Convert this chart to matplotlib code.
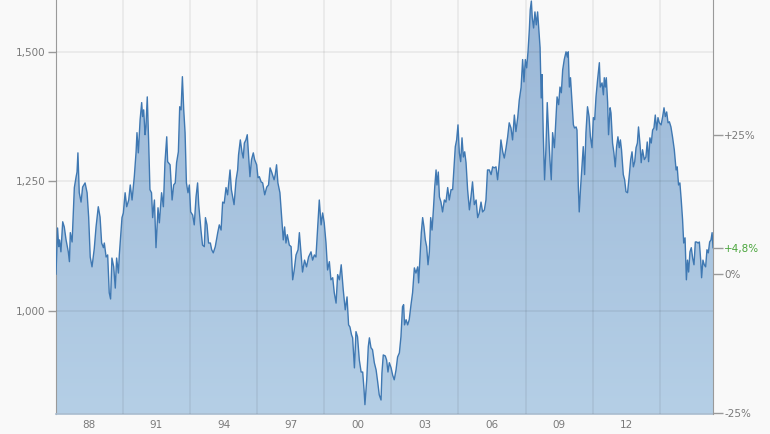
import numpy as np
import matplotlib.pyplot as plt
from matplotlib.colors import LinearSegmentedColormap

# index level (x in decimal years)
years = [
    1986.51, 1986.58, 1986.63, 1986.67, 1986.73, 1986.81, 1986.88, 1986.96, 1987.06, 1987.11,
    1987.15, 1987.23, 1987.33, 1987.41, 1987.45, 1987.49, 1987.55, 1987.63, 1987.70, 1987.81,
    1987.90, 1987.97, 1988.04, 1988.12, 1988.22, 1988.30, 1988.40, 1988.48, 1988.55, 1988.63,
    1988.67, 1988.75, 1988.82, 1988.89, 1988.95, 1989.01, 1989.09, 1989.16, 1989.22, 1989.30,
    1989.34, 1989.46, 1989.52, 1989.60, 1989.67, 1989.76, 1989.83, 1989.91, 1990.01, 1990.09,
    1990.13, 1990.19, 1990.27, 1990.34, 1990.38, 1990.43, 1990.49, 1990.53, 1990.59, 1990.65,
    1990.71, 1990.78, 1990.83, 1990.91, 1990.98, 1991.07, 1991.13, 1991.23, 1991.31, 1991.38,
    1991.46, 1991.50, 1991.61, 1991.70, 1991.77, 1991.84, 1991.90, 1991.98, 1992.04, 1992.10,
    1992.16, 1992.22, 1992.28, 1992.34, 1992.41, 1992.47, 1992.53, 1992.62, 1992.69, 1992.77,
    1992.84, 1992.89, 1992.99, 1993.06, 1993.14, 1993.19, 1993.26, 1993.33, 1993.41, 1993.47,
    1993.54, 1993.63, 1993.74, 1993.81, 1993.89, 1993.96, 1994.03, 1994.11, 1994.18, 1994.29,
    1994.35, 1994.47, 1994.56, 1994.63, 1994.67, 1994.75, 1994.83, 1994.88, 1994.93, 1995.00,
    1995.06, 1995.12, 1995.18, 1995.25, 1995.33, 1995.39, 1995.48, 1995.54, 1995.60, 1995.68,
    1995.75, 1995.84, 1995.93, 1996.01, 1996.08, 1996.15, 1996.26, 1996.31, 1996.37, 1996.43,
    1996.52, 1996.60, 1996.67, 1996.73, 1996.79, 1996.85, 1996.94, 1997.02, 1997.09, 1997.16,
    1997.24, 1997.33, 1997.39, 1997.46, 1997.53, 1997.62, 1997.71, 1997.80, 1997.91, 1997.98,
    1998.06, 1998.13, 1998.21, 1998.28, 1998.36, 1998.43, 1998.50, 1998.58, 1998.65, 1998.73,
    1998.80, 1998.88, 1998.95, 1999.03, 1999.10, 1999.18, 1999.26, 1999.35, 1999.44, 1999.52,
    1999.59, 1999.65, 1999.72, 1999.77, 1999.85, 1999.92, 1999.99, 2000.07, 2000.15, 2000.22,
    2000.28, 2000.32, 2000.40, 2000.47, 2000.52, 2000.59, 2000.66, 2000.74, 2000.82, 2000.89,
    2000.96, 2001.04, 2001.08, 2001.14, 2001.23, 2001.29, 2001.35, 2001.41, 2001.49, 2001.56,
    2001.63, 2001.71, 2001.78, 2001.86, 2001.93, 2002.00, 2002.05, 2002.09, 2002.16, 2002.23,
    2002.30, 2002.38, 2002.45, 2002.53, 2002.60, 2002.68, 2002.72, 2002.78, 2002.84, 2002.90,
    2002.96, 2003.02, 2003.08, 2003.14, 2003.20, 2003.26, 2003.32, 2003.38, 2003.44, 2003.50,
    2003.54, 2003.60, 2003.65, 2003.72, 2003.79, 2003.87, 2003.94, 2004.02, 2004.09, 2004.17,
    2004.24, 2004.30, 2004.36, 2004.42, 2004.48, 2004.54, 2004.60, 2004.66, 2004.72, 2004.78,
    2004.84, 2004.91, 2004.99, 2005.06, 2005.13, 2005.21, 2005.29, 2005.36, 2005.43, 2005.51,
    2005.58, 2005.66, 2005.73, 2005.80, 2005.88, 2005.96, 2006.03, 2006.10, 2006.18, 2006.25,
    2006.33, 2006.40, 2006.48, 2006.55, 2006.63, 2006.70, 2006.77, 2006.85, 2006.92, 2007.00,
    2007.07, 2007.15, 2007.22, 2007.30, 2007.37, 2007.43, 2007.49, 2007.55, 2007.61, 2007.67,
    2007.71, 2007.76, 2007.80, 2007.86, 2007.92, 2007.98, 2008.04, 2008.08, 2008.15, 2008.20,
    2008.24, 2008.29, 2008.35, 2008.41, 2008.47, 2008.53, 2008.59, 2008.65, 2008.71, 2008.79,
    2008.86, 2008.91, 2008.98, 2009.04, 2009.10, 2009.16, 2009.23, 2009.31, 2009.37, 2009.41,
    2009.46, 2009.51, 2009.58, 2009.64, 2009.69, 2009.76, 2009.80, 2009.86, 2009.90, 2009.96,
    2010.02, 2010.08, 2010.14, 2010.20, 2010.27, 2010.34, 2010.40, 2010.47, 2010.53, 2010.59,
    2010.65, 2010.72, 2010.80, 2010.84, 2010.92, 2010.98, 2011.02, 2011.07, 2011.11, 2011.17,
    2011.21, 2011.28, 2011.32, 2011.39, 2011.45, 2011.51, 2011.57, 2011.63, 2011.69, 2011.74,
    2011.79, 2011.87, 2011.93, 2011.99, 2012.06, 2012.14, 2012.20, 2012.26, 2012.32, 2012.38,
    2012.44, 2012.50, 2012.55, 2012.62, 2012.67, 2012.73, 2012.81, 2012.88, 2012.94, 2013.00,
    2013.06, 2013.12, 2013.18, 2013.24, 2013.30, 2013.36, 2013.42, 2013.48, 2013.56, 2013.63,
    2013.69, 2013.75, 2013.81, 2013.87, 2013.93, 2014.00, 2014.07, 2014.15, 2014.23, 2014.28,
    2014.34, 2014.40, 2014.46, 2014.52, 2014.57, 2014.63, 2014.69, 2014.74, 2014.79, 2014.85,
    2014.91, 2014.97, 2015.03, 2015.09, 2015.15, 2015.21, 2015.27, 2015.33, 2015.37, 2015.43,
    2015.49, 2015.55, 2015.61, 2015.67, 2015.73, 2015.79, 2015.84, 2015.88,
]
index = [
    1071, 1160, 1124, 1137, 1114, 1172, 1162, 1137, 1114, 1095,
    1151, 1133, 1238, 1259, 1268, 1305, 1228, 1210, 1239, 1247,
    1228, 1181, 1104, 1085, 1120, 1162, 1201, 1181, 1131, 1122,
    1131, 1104, 1108, 1035, 1023, 1102, 1085, 1044, 1102, 1073,
    1108, 1180, 1189, 1228, 1201, 1214, 1243, 1214, 1259, 1307,
    1344, 1305, 1369, 1402, 1375, 1388, 1340, 1355, 1413, 1330,
    1234, 1228, 1180, 1214, 1122, 1199, 1170, 1228, 1201, 1286,
    1336, 1288, 1282, 1214, 1243, 1247, 1286, 1307, 1394, 1388,
    1452, 1388, 1344, 1247, 1228, 1243, 1191, 1185, 1166, 1220,
    1247, 1205, 1156, 1127, 1124, 1180, 1166, 1131, 1131, 1118,
    1112, 1124, 1151, 1166, 1156, 1210, 1208, 1238, 1224, 1272,
    1234, 1205, 1253, 1272, 1301, 1330, 1305, 1295, 1324, 1330,
    1340, 1301, 1259, 1292, 1305, 1292, 1282, 1257, 1259, 1249,
    1247, 1224, 1239, 1243, 1276, 1268, 1253, 1263, 1282, 1247,
    1228, 1181, 1137, 1162, 1131, 1147, 1127, 1124, 1060, 1079,
    1108, 1118, 1151, 1112, 1075, 1098, 1085, 1104, 1114, 1098,
    1108, 1104, 1162, 1214, 1166, 1189, 1170, 1131, 1079, 1095,
    1060, 1064, 1035, 1015, 1070, 1060, 1089, 1041, 1002, 1027,
    973, 969, 954, 948, 890, 960, 950, 905, 882, 882,
    848, 819, 867, 931, 948, 929, 925, 900, 886, 863,
    838, 828, 880, 915, 913, 905, 882, 900, 890, 876,
    867, 886, 911, 919, 950, 1008, 1012, 973, 983, 973,
    983, 1012, 1035, 1083, 1073, 1085, 1054, 1104, 1151, 1180,
    1162, 1137, 1124, 1089, 1114, 1180, 1156, 1195, 1239, 1272,
    1243, 1268, 1220, 1210, 1191, 1214, 1210, 1238, 1214, 1234,
    1234, 1276, 1317, 1330, 1359, 1305, 1288, 1334, 1297, 1307,
    1286, 1234, 1195, 1220, 1249, 1205, 1214, 1180, 1189, 1210,
    1191, 1195, 1214, 1272, 1272, 1263, 1278, 1276, 1278, 1253,
    1288, 1330, 1307, 1295, 1315, 1336, 1363, 1353, 1330, 1378,
    1346, 1373, 1407, 1431, 1485, 1442, 1485, 1469, 1500, 1543,
    1581, 1598, 1566, 1546, 1577, 1552, 1577, 1552, 1508, 1411,
    1456, 1344, 1253, 1311, 1402, 1344, 1292, 1253, 1344, 1315,
    1373, 1413, 1398, 1432, 1421, 1465, 1485, 1500, 1490, 1500,
    1432, 1450, 1402, 1359, 1353, 1355, 1349, 1239, 1191, 1238,
    1278, 1317, 1263, 1344, 1394, 1375, 1336, 1315, 1373, 1369,
    1413, 1446, 1479, 1432, 1440, 1417, 1450, 1432, 1450, 1402,
    1340, 1392, 1382, 1324, 1305, 1278, 1317, 1336, 1315, 1330,
    1311, 1263, 1253, 1230, 1228, 1263, 1292, 1307, 1278, 1288,
    1315, 1324, 1355, 1320, 1286, 1311, 1292, 1297, 1326, 1288,
    1334, 1324, 1349, 1353, 1378, 1349, 1373, 1363, 1359, 1375,
    1392, 1375, 1384, 1363, 1365, 1355, 1336, 1311, 1272, 1278,
    1243, 1247, 1214, 1176, 1131, 1141, 1060, 1098, 1075, 1114,
    1122, 1102, 1089, 1133, 1133, 1131, 1133, 1098, 1064, 1098,
    1089, 1085, 1118, 1112, 1133, 1137, 1151, 1122,
]

year_ticks = [1988, 1991, 1994, 1997, 2000, 2003, 2006, 2009, 2012]
year_labels = ['88', '91', '94', '97', '00', '03', '06', '09', '12']
level_ticks = [1000, 1250, 1500]
pct_ticks = [-25, 0, 25]

ymin, ymax = 801, 1600
bg = '#f9f9f9'
grey_txt = '#7a7a7a'
grey_ax = '#9a9a9a'

fig = plt.figure(figsize=(7.7, 4.34), dpi=100, facecolor=bg)
ax = fig.add_axes([56 / 770, 20 / 434, 657 / 770, 414 / 434])
ax.set_facecolor(bg)
ax.set_xlim(years[0], years[-1])
ax.set_ylim(ymin, ymax)

# gradient area under the curve
fill = ax.fill_between(years, index, ymin, facecolor='none', edgecolor='none')
cmap = LinearSegmentedColormap.from_list('area', ['#9ab7d7', '#b5cfe6'])
grad = np.linspace(0, 1, 256).reshape(-1, 1)
im = ax.imshow(grad, cmap=cmap, aspect='auto', origin='upper',
               extent=[years[0], years[-1], ymin, ymax], zorder=1)
im.set_clip_path(fill.get_paths()[0], ax.transData)
ax.plot(years, index, color='#3f78b2', lw=1.0, zorder=3)

# axes and grid
ax.set_axisbelow(False)
ax.set_yticks(level_ticks)
ax.set_yticklabels([f'{v:,}' for v in level_ticks])
ax.set_xticks(year_ticks)
ax.set_xticklabels(year_labels)
ax.set_xticks([y + 1.5 for y in year_ticks], minor=True)
ax.grid(axis='y', color='k', alpha=0.07, lw=1.1)
ax.grid(axis='x', which='minor', color='k', alpha=0.07, lw=1.1)
ax.tick_params(axis='y', length=6, width=1, color=grey_ax, labelcolor=grey_txt,
               labelsize=7.5, pad=1.5)
ax.tick_params(axis='x', which='both', length=0, labelcolor=grey_txt,
               labelsize=7.5, pad=4)
for s in ['top', 'right']:
    ax.spines[s].set_visible(False)
ax.spines['left'].set_color(grey_ax)
ax.spines['bottom'].set_color('#a9bccf')
ax.spines['bottom'].set_linewidth(1.2)

# percentage axis relative to the first value
base = index[0]
last_pct = (index[-1] / base - 1) * 100
ax2 = ax.twinx()
ax2.set_ylim(ymin, ymax)
r_ticks = [base * (1 + p / 100) for p in pct_ticks] + [index[-1]]
r_labels = [f'{p:+d}%' if p else '0%' for p in pct_ticks]
r_labels.append(f'{last_pct:+.1f}%'.replace('.', ','))
ax2.set_yticks(r_ticks)
ax2.set_yticklabels(r_labels)
ax2.tick_params(axis='y', length=7, width=1, color=grey_ax, labelcolor=grey_txt,
                labelsize=7.5, pad=1)
ax2.get_yticklabels()[-1].set_color('#4aa53c')
for s in ['top', 'left', 'bottom']:
    ax2.spines[s].set_visible(False)
ax2.spines['right'].set_color(grey_ax)

fig.savefig('out.png', dpi=100, facecolor=bg)
